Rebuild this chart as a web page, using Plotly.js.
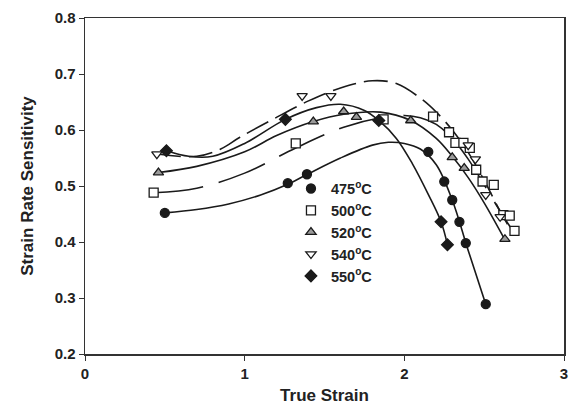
<!DOCTYPE html>
<html>
<head>
<meta charset="utf-8">
<script src="https://cdn.plot.ly/plotly-3.0.1.min.js"></script>
<style>html,body{margin:0;padding:0;background:#fff;}#chart{width:576px;height:406px;}</style>
</head>
<body>
<div id="chart"></div>
<script>
// Measured points
var labels = ["475<sup>o</sup>C", "500<sup>o</sup>C", "520<sup>o</sup>C", "540<sup>o</sup>C", "550<sup>o</sup>C"];

var x475 = [0.50, 1.27, 1.39, 2.15, 2.25, 2.30, 2.345, 2.385, 2.51];
var y475 = [0.452, 0.505, 0.521, 0.561, 0.508, 0.475, 0.436, 0.398, 0.289];

var x500 = [0.43, 1.32, 1.87, 2.18, 2.28, 2.32, 2.37, 2.41, 2.45, 2.49, 2.56, 2.62, 2.66, 2.69];
var y500 = [0.488, 0.576, 0.619, 0.624, 0.596, 0.577, 0.577, 0.568, 0.529, 0.508, 0.502, 0.448, 0.447, 0.420];

var x520 = [0.46, 1.43, 1.62, 1.70, 2.04, 2.30, 2.375, 2.63];
var y520 = [0.524, 0.615, 0.633, 0.623, 0.617, 0.551, 0.532, 0.405];

var x540 = [0.45, 1.36, 1.54, 2.40, 2.445, 2.51, 2.60];
var y540 = [0.557, 0.661, 0.661, 0.573, 0.548, 0.484, 0.445];

var x550 = [0.51, 1.255, 1.84, 2.23, 2.27];
var y550 = [0.563, 0.619, 0.617, 0.436, 0.395];

// Fitted curves
var cx475 = [0.50, 0.70, 0.90, 1.10, 1.27, 1.40, 1.60, 1.80, 1.90, 2.00, 2.10, 2.20, 2.30, 2.40, 2.51];
var cy475 = [0.452, 0.458, 0.468, 0.484, 0.503, 0.522, 0.550, 0.573, 0.578, 0.576, 0.566, 0.538, 0.475, 0.385, 0.289];

var cx500 = [0.43, 0.70, 1.00, 1.32, 1.62, 1.85, 2.00, 2.10, 2.20, 2.30, 2.40, 2.50, 2.60, 2.69];
var cy500 = [0.488, 0.496, 0.523, 0.568, 0.605, 0.622, 0.626, 0.622, 0.610, 0.585, 0.548, 0.502, 0.455, 0.415];

var cx520 = [0.46, 0.70, 1.00, 1.20, 1.43, 1.62, 1.85, 2.04, 2.20, 2.30, 2.40, 2.50, 2.63];
var cy520 = [0.524, 0.535, 0.561, 0.590, 0.615, 0.628, 0.632, 0.617, 0.585, 0.553, 0.515, 0.470, 0.404];

var cx540 = [0.45, 0.70, 0.85, 0.97, 1.17, 1.40, 1.60, 1.80, 1.95, 2.10, 2.20, 2.30, 2.40, 2.50, 2.60, 2.66];
var cy540 = [0.557, 0.553, 0.566, 0.587, 0.618, 0.652, 0.675, 0.688, 0.683, 0.657, 0.632, 0.600, 0.560, 0.510, 0.455, 0.425];

var cx550 = [0.51, 0.65, 0.80, 1.00, 1.255, 1.45, 1.60, 1.75, 1.84, 1.95, 2.05, 2.15, 2.23, 2.27];
var cy550 = [0.563, 0.553, 0.553, 0.576, 0.619, 0.640, 0.646, 0.635, 0.617, 0.585, 0.540, 0.485, 0.436, 0.395];

var xTicks = [0, 1, 2, 3];
var yTicks = [0.2, 0.3, 0.4, 0.5, 0.6, 0.7, 0.8];

var ink = '#1a1a1a';
function curve(x, y, dash) {
  return {x: x, y: y, type: 'scatter', mode: 'lines', line: {shape: 'spline', smoothing: 1.0, color: ink, width: 1.6, dash: dash}, showlegend: false, hoverinfo: 'skip'};
}
function pts(x, y, name, symbol, fill) {
  return {x: x, y: y, type: 'scatter', mode: 'markers', name: name,
    marker: {symbol: symbol, size: 9, color: fill, line: {color: ink, width: 1.3}}};
}

var data = [
  curve(cx475, cy475, 'solid'),
  curve(cx500, cy500, '50px,16px'),
  curve(cx520, cy520, 'solid'),
  curve(cx540, cy540, '24px,8px'),
  curve(cx550, cy550, 'solid'),
  pts(x475, y475, labels[0], 'circle', ink),
  pts(x500, y500, labels[1], 'square', '#ffffff'),
  pts(x520, y520, labels[2], 'triangle-up', '#9a9a9a'),
  pts(x540, y540, labels[3], 'triangle-down', '#ffffff'),
  pts(x550, y550, labels[4], 'diamond', ink)
];

var font = {family: 'Arial, Liberation Sans, sans-serif', color: '#222'};
var layout = {
  width: 576, height: 406,
  margin: {l: 85, r: 12, t: 18, b: 52},
  paper_bgcolor: '#fff', plot_bgcolor: '#fff',
  font: font,
  showlegend: true,
  legend: {x: 0.43, y: 0.54, xanchor: 'left', yanchor: 'top', bgcolor: 'rgba(0,0,0,0)',
    font: {family: font.family, size: 14.5, color: '#222', weight: 'bold'}, tracegroupgap: 0, itemwidth: 30},
  xaxis: {range: [0, 3], tickvals: xTicks, ticktext: xTicks.map(String), showgrid: false, zeroline: false,
    showline: true, mirror: true, linecolor: '#333', linewidth: 1.5, ticks: 'outside', ticklen: 5, tickcolor: '#333',
    tickfont: {size: 15, weight: 'bold'},
    title: {text: 'True Strain', font: {size: 17, weight: 'bold'}, standoff: 8}},
  yaxis: {range: [0.2, 0.8], tickvals: yTicks, ticktext: yTicks.map(function(v){return v.toFixed(1);}), showgrid: false, zeroline: false,
    showline: true, mirror: true, linecolor: '#333', linewidth: 1.5, ticks: 'outside', ticklen: 5, tickcolor: '#333',
    tickfont: {size: 15, weight: 'bold'},
    title: {text: 'Strain Rate Sensitivity', font: {size: 17, weight: 'bold'}, standoff: 16}}
};

Plotly.newPlot('chart', data, layout, {displayModeBar: false, staticPlot: true});
</script>
</body>
</html>
